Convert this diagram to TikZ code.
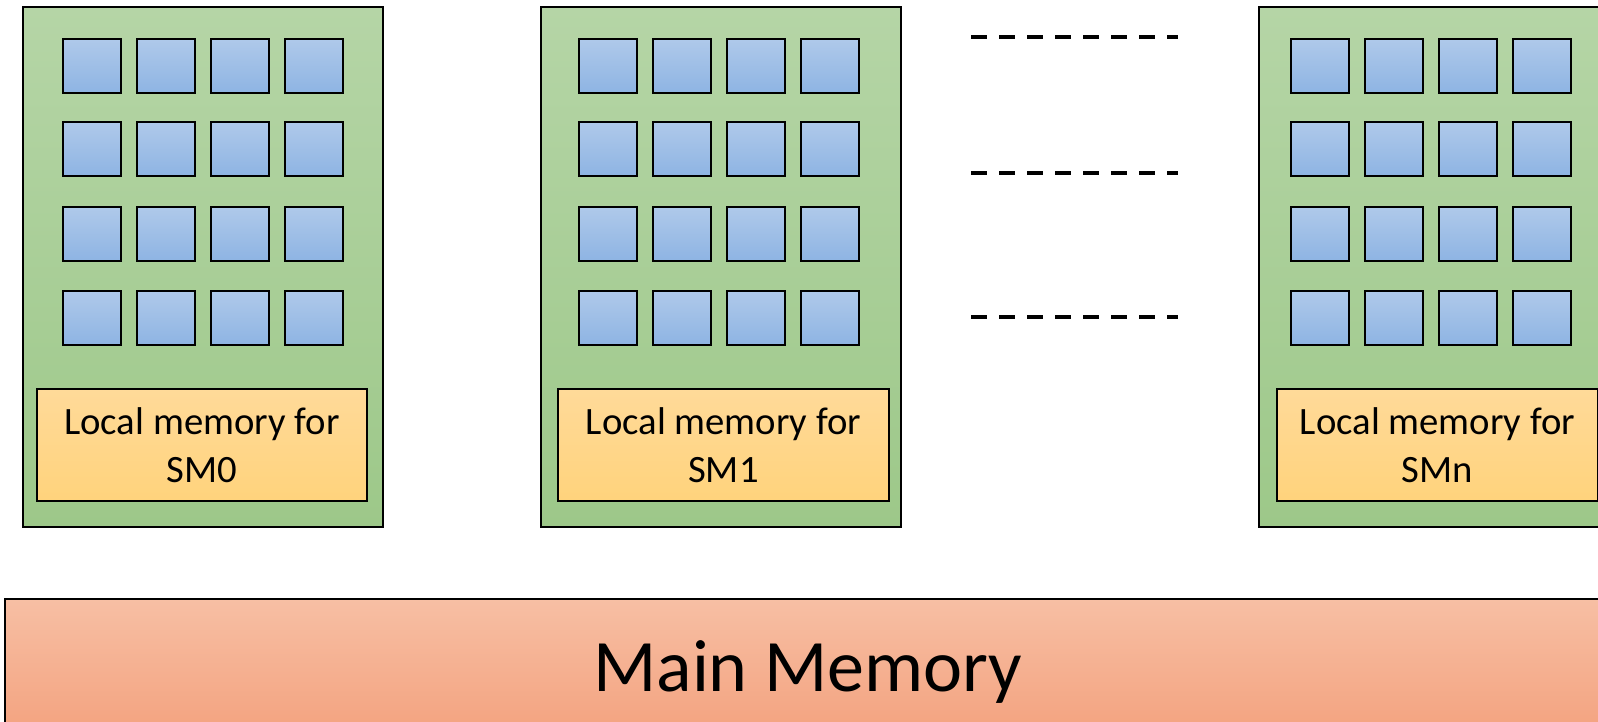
\documentclass[tikz,border=0pt]{standalone}
\usepackage{fontspec}
\setmainfont{Carlito}
\usetikzlibrary{positioning}
\definecolor{smtop}{HTML}{B5D5A6}
\definecolor{smbot}{HTML}{9DC889}
\definecolor{coretop}{HTML}{AFC9EA}
\definecolor{corebot}{HTML}{8EB4E3}
\definecolor{loctop}{HTML}{FFDA99}
\definecolor{locbot}{HTML}{FFD37C}
\definecolor{memtop}{HTML}{F7BFA4}
\definecolor{membot}{HTML}{F3A07C}
\tikzset{
  smbox/.style={draw=black, line width=1.8pt, top color=smtop, bottom color=smbot,
                minimum width=360, minimum height=520, anchor=north west, inner sep=0pt},
  core/.style={draw=black, line width=1.8pt, top color=coretop, bottom color=corebot,
               minimum width=58, minimum height=54, anchor=north west, inner sep=0pt},
  localmem/.style={draw=black, line width=1.8pt, top color=loctop, bottom color=locbot,
                   minimum height=112, anchor=north west, inner sep=0pt, align=center,
                   font=\fontsize{38.7}{48}\selectfont},
  mainmem/.style={draw=black, line width=1.8pt, top color=memtop, bottom color=membot,
                  minimum width=1606, minimum height=146, anchor=north west, inner sep=0pt,
                  font=\fontsize{74}{88}\selectfont},
  dots/.style={draw=black, line width=4pt, dash pattern=on 16pt off 12pt},
}

\begin{document}
\begin{tikzpicture}[x=1pt, y=-1pt]
    \useasboundingbox (0,0) rectangle (1598,721);
    \clip (0,0) rectangle (1598,721);
    % streaming multiprocessors
    \foreach \n/\xo/\xs/\xl/\wl in {0/22/62/36/330, 1/540/578/557/331, n/1258/1290/1276/321} {
      \node[smbox] (sm\n) at (\xo,6) {};
      \foreach \c in {0,...,3}
        \foreach \r/\yr in {0/38, 1/121, 2/206, 3/290}
          \node[core] (sm\n-\r\c) at (\xs+74*\c,\yr) {};
      \node[localmem, minimum width=\wl] (loc\n) at (\xl,388) {Local memory for\\SM\n};
    }
    % gap between SM1 and SMn
    \foreach \y in {37,173,317}
      \draw[dots] (971,\y) -- (1178,\y);
    \node[mainmem] (main) at (4,598) {Main Memory};
  \end{tikzpicture}
\end{document}
